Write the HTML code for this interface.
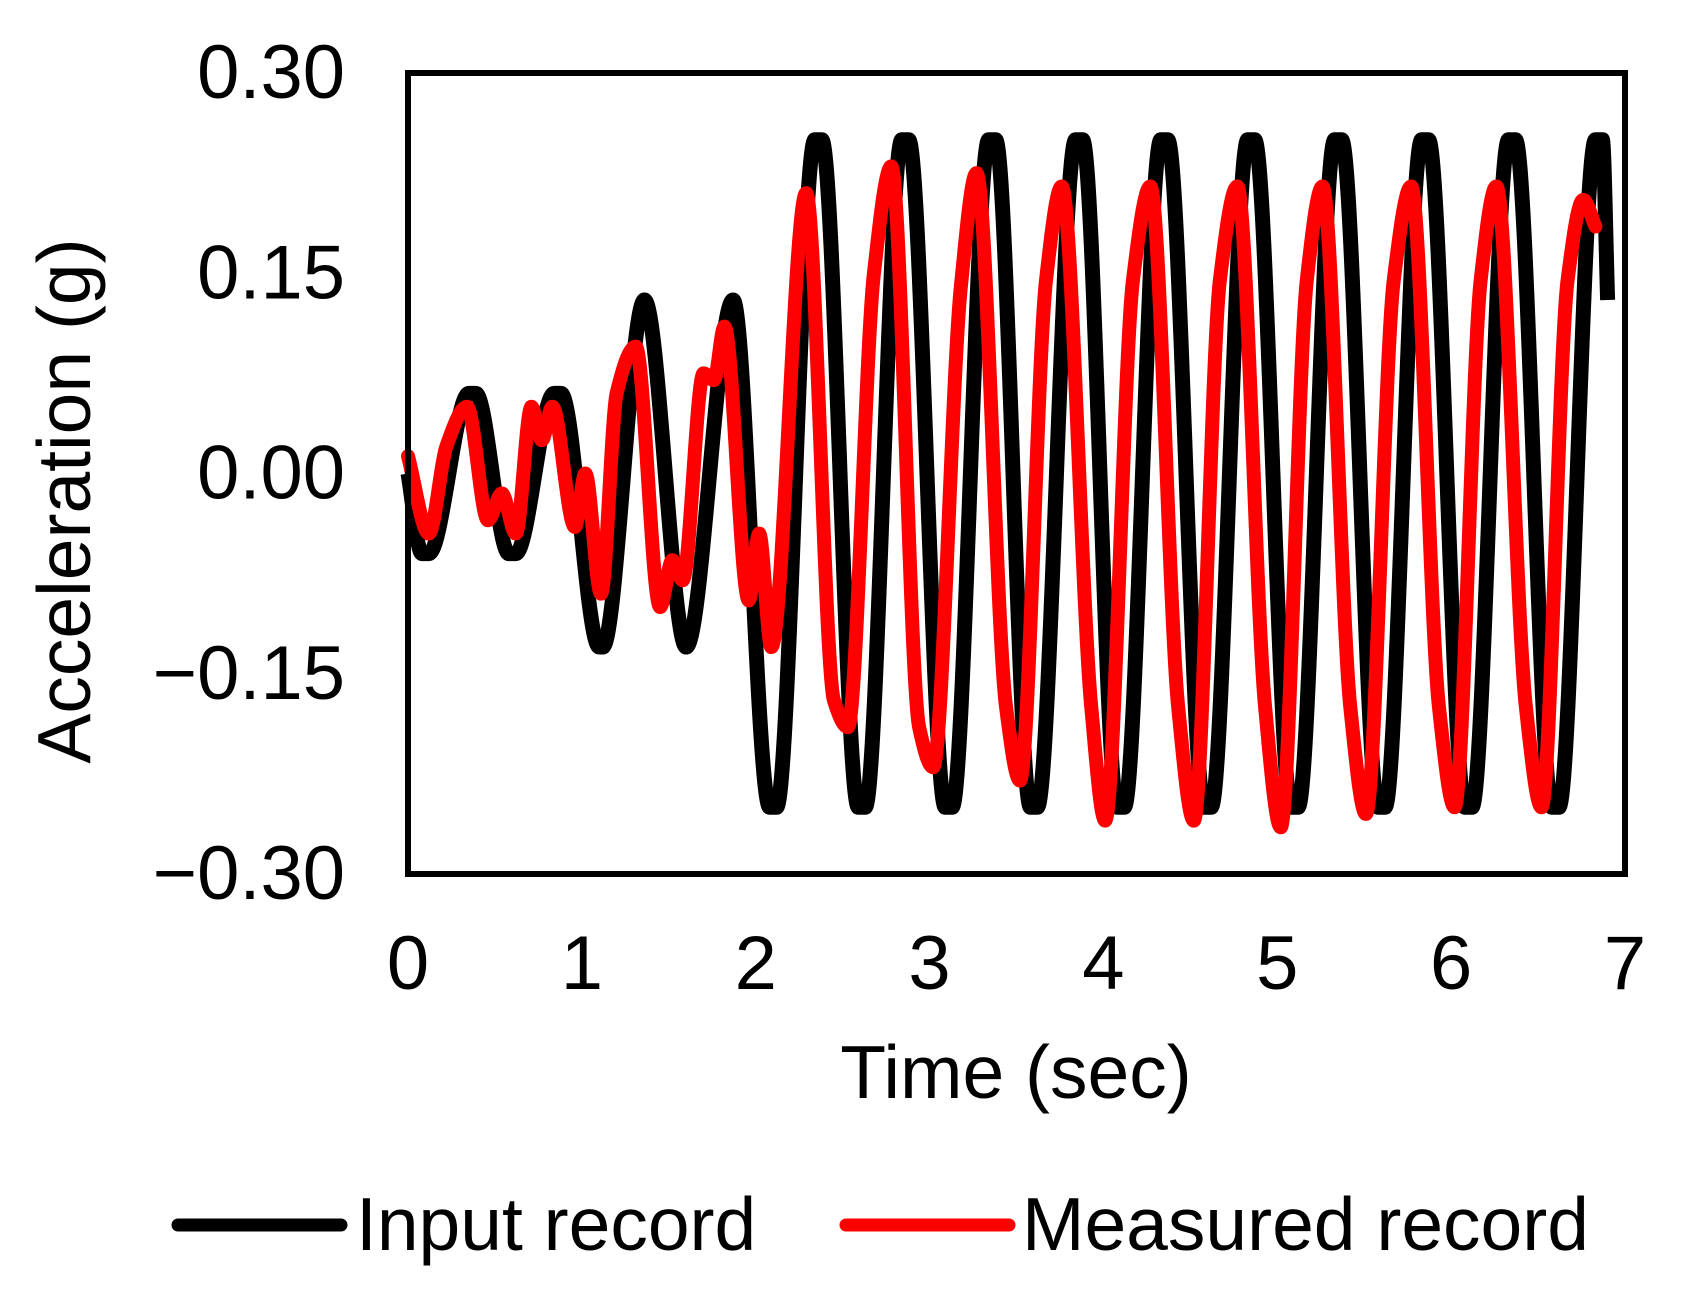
<!DOCTYPE html>
<html><head><meta charset="utf-8"><style>
html,body{margin:0;padding:0;background:#fff;}
svg{display:block;}
text{font-family:"Liberation Sans",sans-serif;fill:#000;}
</style></head><body>
<svg id="chart" width="1682" height="1310" viewBox="0 0 1682 1310" xmlns="http://www.w3.org/2000/svg">
<g id="series"></g>
<rect x="408" y="73" width="1217" height="801" fill="none" stroke="#000" stroke-width="6"/>
<g id="yticks"></g>
<g id="xticks"></g>
<text x="1016" y="1098" font-size="75" text-anchor="middle">Time (sec)</text>
<text transform="translate(90,501) rotate(-90)" font-size="75" text-anchor="middle">Acceleration (g)</text>
<g>
<line x1="178" y1="1225" x2="341" y2="1225" stroke="#000" stroke-width="13" stroke-linecap="round"/>
<text x="356" y="1250" font-size="75">Input record</text>
<line x1="846" y1="1225" x2="1009" y2="1225" stroke="#f00" stroke-width="13" stroke-linecap="round"/>
<text x="1022" y="1250" font-size="75">Measured record</text>
</g>
</svg>
<script>
const xTicks=[0,1,2,3,4,5,6,7];
const yTicks=[0.30,0.15,0.00,-0.15,-0.30];
const yTickLabels=["0.30","0.15","0.00","\u22120.15","\u22120.30"];
const tIn=[0,0.08,0.12,0.35,0.39,0.58,0.62,0.84,0.88,1.1,1.12,1.36,1.6,1.87,2.08,2.12,2.34,2.38,2.59,2.63,2.84,2.88,3.09,3.13,3.34,3.38,3.58,3.62,3.84,3.88,4.08,4.12,4.33,4.37,4.58,4.62,4.83,4.87,5.08,5.12,5.33,5.37,5.58,5.62,5.83,5.87,6.08,6.12,6.33,6.37,6.58,6.62,6.83,6.87,6.9];
const aIn=[0,-0.06,-0.06,0.06,0.06,-0.06,-0.06,0.06,0.06,-0.13,-0.13,0.13,-0.13,0.13,-0.25,-0.25,0.25,0.25,-0.25,-0.25,0.25,0.25,-0.25,-0.25,0.25,0.25,-0.25,-0.25,0.25,0.25,-0.25,-0.25,0.25,0.25,-0.25,-0.25,0.25,0.25,-0.25,-0.25,0.25,0.25,-0.25,-0.25,0.25,0.25,-0.25,-0.25,0.25,0.25,-0.25,-0.25,0.25,0.25,0.13];
const tMeas=[0,0.12,0.22,0.34,0.46,0.54,0.62,0.71,0.77,0.83,0.96,1.02,1.11,1.2,1.31,1.45,1.52,1.58,1.7,1.76,1.82,1.96,2.02,2.09,2.29,2.45,2.53,2.68,2.78,2.94,3.02,3.18,3.27,3.44,3.52,3.67,3.76,3.93,4.01,4.17,4.27,4.43,4.52,4.67,4.77,4.93,5.02,5.17,5.26,5.42,5.51,5.67,5.77,5.93,6.02,6.17,6.26,6.43,6.52,6.67,6.76,6.83];
const aMeas=[0.013,-0.045,0.02,0.05,-0.035,-0.015,-0.045,0.05,0.025,0.05,-0.04,0,-0.09,0.06,0.095,-0.1,-0.065,-0.08,0.075,0.07,0.11,-0.095,-0.045,-0.13,0.21,-0.17,-0.19,0.15,0.23,-0.19,-0.22,0.14,0.225,-0.175,-0.23,0.145,0.215,-0.175,-0.26,0.145,0.215,-0.175,-0.26,0.145,0.215,-0.175,-0.265,0.145,0.215,-0.175,-0.255,0.145,0.215,-0.175,-0.25,0.145,0.215,-0.175,-0.25,0.145,0.205,0.185];

const X0=408,X1=1625,Y0=874,Y1=73;
const xs=t=>X0+(t-0)/(7-0)*(X1-X0);
const ys=v=>Y0-(v+0.3)/0.6*(Y0-Y1);
const NS="http://www.w3.org/2000/svg";

function monoPath(ts,vs){
  const n=ts.length,px=ts.map(xs),py=vs.map(ys);
  const d=[],m=new Array(n).fill(0);
  for(let i=0;i<n-1;i++)d.push((py[i+1]-py[i])/(px[i+1]-px[i]));
  m[0]=d[0];m[n-1]=d[n-2];
  for(let i=1;i<n-1;i++){
    if(d[i-1]*d[i]<=0)m[i]=0;
    else{const w1=2*(px[i+1]-px[i])+(px[i]-px[i-1]),w2=(px[i+1]-px[i])+2*(px[i]-px[i-1]);
      m[i]=(w1+w2)/(w1/d[i-1]+w2/d[i]);}
  }
  let s="M"+px[0]+","+py[0];
  for(let i=0;i<n-1;i++){
    const h=(px[i+1]-px[i])/3;
    s+=" C"+(px[i]+h)+","+(py[i]+m[i]*h)+" "+(px[i+1]-h)+","+(py[i+1]-m[i+1]*h)+" "+px[i+1]+","+py[i+1];
  }
  return s;
}
const g=document.getElementById("series");
const pIn=document.createElementNS(NS,"path");


pIn.setAttribute("d",monoPath(tIn,aIn));
pIn.setAttribute("fill","none");pIn.setAttribute("stroke","#000");pIn.setAttribute("stroke-width","15");pIn.setAttribute("stroke-linejoin","round");
g.appendChild(pIn);
const pM=document.createElementNS(NS,"path");


pM.setAttribute("d",monoPath(tMeas,aMeas));
pM.setAttribute("fill","none");pM.setAttribute("stroke","#f00");pM.setAttribute("stroke-width","14");pM.setAttribute("stroke-linejoin","round");pM.setAttribute("stroke-linecap","round");
g.appendChild(pM);

const yg=document.getElementById("yticks");
yTicks.forEach((v,i)=>{
  const t=document.createElementNS(NS,"text");
  
  
  t.setAttribute("x",345);t.setAttribute("y",ys(v)+25);
  t.setAttribute("font-size","76");t.setAttribute("text-anchor","end");
  t.textContent=yTickLabels[i];yg.appendChild(t);
});
const xg=document.getElementById("xticks");
xTicks.forEach(v=>{
  const t=document.createElementNS(NS,"text");
  
  
  t.setAttribute("x",xs(v));t.setAttribute("y",989);
  t.setAttribute("font-size","76");t.setAttribute("text-anchor","middle");
  t.textContent=String(v);xg.appendChild(t);
});
</script>
</body></html>
